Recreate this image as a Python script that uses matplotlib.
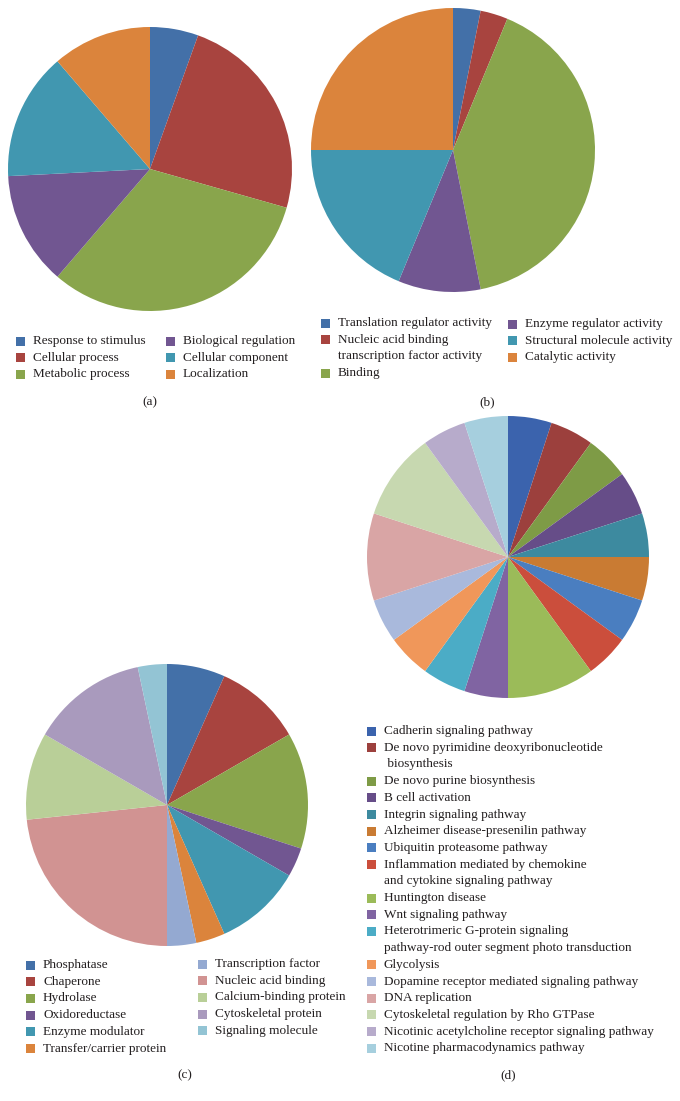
import matplotlib
matplotlib.use("Agg")
import matplotlib.pyplot as plt
from matplotlib.patches import Rectangle

W, H = 680, 1101

# --- data ---
a_labels = ["Response to stimulus", "Cellular process", "Metabolic process",
            "Biological regulation", "Cellular component", "Localization"]
a_values = [5.5, 23.9, 31.9, 12.9, 14.5, 11.3]
a_colors = ["#4370A8", "#A8443F", "#89A54C", "#715691", "#4197B0", "#DB843C"]

b_labels = ["Translation regulator activity",
            "Nucleic acid binding\ntranscription factor activity",
            "Binding", "Enzyme regulator activity",
            "Structural molecule activity", "Catalytic activity"]
b_values = [1, 1, 13, 3, 6, 8]
b_colors = a_colors

c_labels = ["Phosphatase", "Chaperone", "Hydrolase", "Oxidoreductase",
            "Enzyme modulator", "Transfer/carrier protein",
            "Transcription factor", "Nucleic acid binding",
            "Calcium-binding protein", "Cytoskeletal protein",
            "Signaling molecule"]
c_values = [2, 3, 4, 1, 3, 1, 1, 7, 3, 4, 1]
c_colors = ["#4370A8", "#A8443F", "#89A54C", "#715691", "#4197B0", "#DB843C",
            "#94A9D1", "#D19392", "#B9CF98", "#A99ABD", "#93C4D4"]

d_labels = ["Cadherin signaling pathway",
            "De novo pyrimidine deoxyribonucleotide\n biosynthesis",
            "De novo purine biosynthesis", "B cell activation",
            "Integrin signaling pathway", "Alzheimer disease-presenilin pathway",
            "Ubiquitin proteasome pathway",
            "Inflammation mediated by chemokine\nand cytokine signaling pathway",
            "Huntington disease", "Wnt signaling pathway",
            "Heterotrimeric G-protein signaling\npathway-rod outer segment photo transduction",
            "Glycolysis", "Dopamine receptor mediated signaling pathway",
            "DNA replication", "Cytoskeletal regulation by Rho GTPase",
            "Nicotinic acetylcholine receptor signaling pathway",
            "Nicotine pharmacodynamics pathway"]
d_values = [1, 1, 1, 1, 1, 1, 1, 1, 2, 1, 1, 1, 1, 2, 2, 1, 1]
d_colors = ["#3B63AD", "#9C403D", "#7E9B46", "#664D88", "#3D8A9F", "#C97B33",
            "#4A7EC0", "#CB4E3C", "#9BBB59", "#8064A2", "#4BACC6", "#F0975A",
            "#A9B9DC", "#D9A5A5", "#C7D8B0", "#B7ABCB", "#A6CFDE"]

plt.rcParams['font.family'] = ['Liberation Serif', 'DejaVu Serif']
FS = 9.5
TXT = "#231F20"
STEP = 16.7

fig = plt.figure(figsize=(W / 100, H / 100), dpi=100)


def fx(x):
    return x / W


def fy(y):
    return 1 - y / H


def pie(cx, cy, r, values, colors):
    ax = fig.add_axes([fx(cx - r), fy(cy + r), 2 * r / W, 2 * r / H])
    ax.pie(values, colors=colors, startangle=90, counterclock=False,
           wedgeprops=dict(linewidth=0))
    ax.set_xlim(-1, 1)
    ax.set_ylim(-1, 1)
    ax.set_aspect("equal")
    ax.axis("off")


def legend(x, y, labels, colors):
    # x = left of marker, y = centre of first line
    for lab, col in zip(labels, colors):
        fig.patches.append(Rectangle((fx(x), fy(y + 4.5)), 9 / W, 9 / H,
                                     transform=fig.transFigure,
                                     facecolor=col, edgecolor="none"))
        lines = lab.split("\n")
        for i, ln in enumerate(lines):
            fig.text(fx(x + 17), fy(y + i * STEP), ln, fontsize=FS,
                     color=TXT, va="center", ha="left")
        y += STEP * len(lines)


pie(150, 169, 142, a_values, a_colors)
pie(453, 150, 142, b_values, b_colors)
pie(167, 805, 141, c_values, c_colors)
pie(508, 557, 141, d_values, d_colors)

legend(16, 341, a_labels[:3], a_colors[:3])
legend(166, 341, a_labels[3:], a_colors[3:])
legend(321, 323, b_labels[:3], b_colors[:3])
legend(508, 324, b_labels[3:], b_colors[3:])
legend(26, 965, c_labels[:6], c_colors[:6])
legend(198, 964, c_labels[6:], c_colors[6:])
legend(367, 731, d_labels, d_colors)

for lab, x, y in [("(a)", 150, 402), ("(b)", 487, 402),
                  ("(c)", 185, 1075), ("(d)", 508, 1075)]:
    fig.text(fx(x), fy(y), lab, fontsize=FS, color=TXT, ha="center", va="center")

fig.savefig("out.png", dpi=100)
